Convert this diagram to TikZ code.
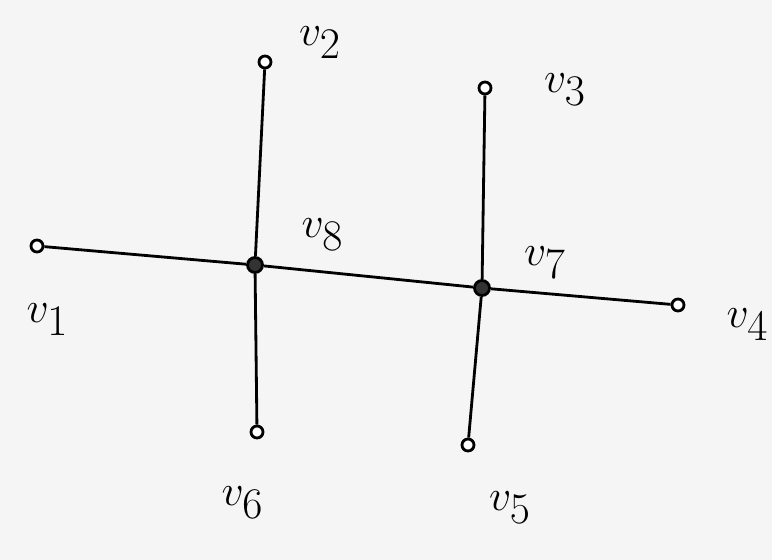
\documentclass[tikz,border=0pt]{standalone}
\usepackage{amsmath,amssymb}
\usepackage{tikz}
\usetikzlibrary{positioning}
\usepackage{xcolor}

\begin{document}
\begin{tikzpicture}[
    every node/.style={font=\fontsize{34}{40}\selectfont},
    vert/.style={draw, circle, line width=1.6pt, inner sep=0pt,
                 minimum size=0.24cm, fill=white},
    hub/.style={vert, fill=black!80, minimum size=0.3cm},
    edge/.style={line width=1.6pt},
    vlabel/.style={inner sep=0pt},
]
\useasboundingbox (0,0) rectangle (15.44,-11.2);
\fill[gray!8] (0,0) rectangle (15.44,-11.2);

%% Vertices
\node[vert] (v1) at (0.74,-4.92) {};
\node[hub]  (v8) at (5.10,-5.30) {};
\node[vert] (v2) at (5.30,-1.24) {};
\node[vert] (v6) at (5.14,-8.64) {};
\node[vert] (v3) at (9.70,-1.76) {};
\node[hub]  (v7) at (9.64,-5.76) {};
\node[vert] (v4) at (13.56,-6.10) {};
\node[vert] (v5) at (9.36,-8.90) {};

%% Labels
\node[vlabel] (l1) at (0.95,-6.40) {$v_1$};
\node[vlabel] (l2) at (6.40,-0.85) {$v_2$};
\node[vlabel] (l3) at (11.30,-1.80) {$v_3$};
\node[vlabel] (l4) at (14.95,-6.50) {$v_4$};
\node[vlabel] (l5) at (10.20,-10.15) {$v_5$};
\node[vlabel] (l6) at (4.85,-10.05) {$v_6$};
\node[vlabel] (l7) at (10.90,-5.25) {$v_7$};
\node[vlabel] (l8) at (6.45,-4.70) {$v_8$};

%% Edges
\draw[edge] (v1) -- (v8);
\draw[edge] (v2) -- (v8);
\draw[edge] (v8) -- (v6);
\draw[edge] (v8) -- (v7);
\draw[edge] (v3) -- (v7);
\draw[edge] (v7) -- (v5);
\draw[edge] (v7) -- (v4);

\end{tikzpicture}
\end{document}
